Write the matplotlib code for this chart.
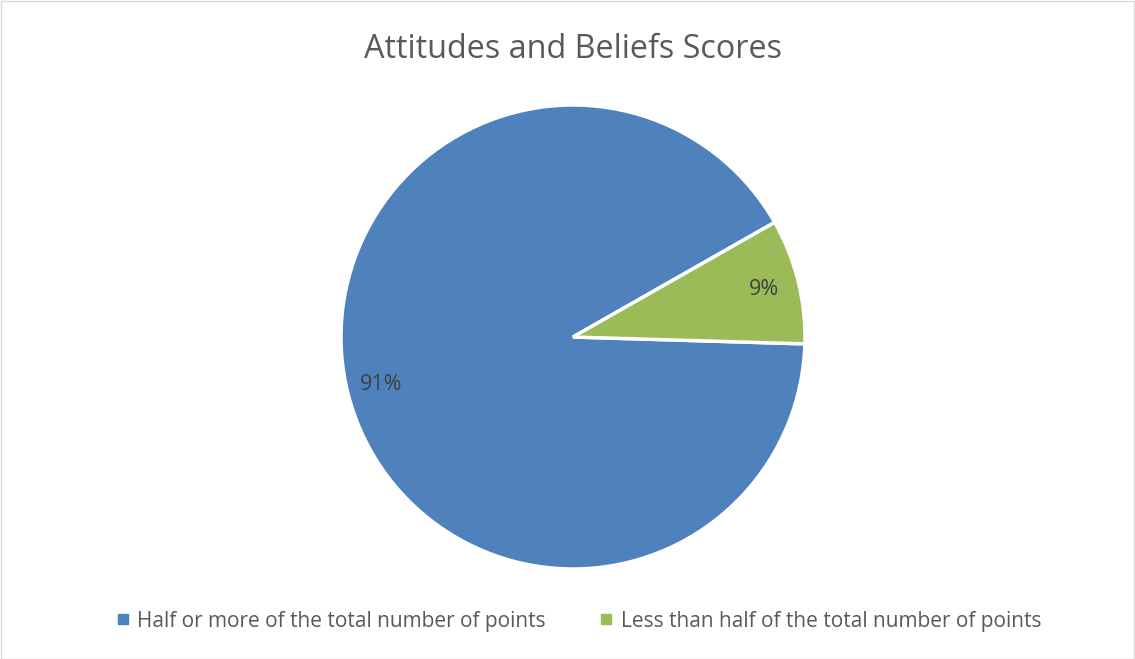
import matplotlib
matplotlib.use("Agg")
import matplotlib.pyplot as plt
from matplotlib.patches import Rectangle
from matplotlib.lines import Line2D

categories = ["Half or more of the total number of points",
              "Less than half of the total number of points"]
values = [91.3, 8.7]
colors = ["#4F81BD", "#9BBB59"]
title = "Attitudes and Beliefs Scores"

plt.rcParams['font.family'] = ['Open Sans', 'DejaVu Sans']

W, H = 1135, 659
fig = plt.figure(figsize=(W/100, H/100), dpi=100)
fig.patch.set_facecolor("white")
fig.add_artist(Rectangle((0.5/W, 0.5/H), 1-1.5/W, 1-1.5/H, transform=fig.transFigure,
                         fill=False, edgecolor="#D9D9D9", linewidth=1))

cx, cy, r = 573, 337, 232
ax = fig.add_axes([(cx - r)/W, (H - cy - r)/H, 2*r/W, 2*r/H])
wedges, texts, autotexts = ax.pie(values, colors=colors, startangle=-1.7, counterclock=False,
                                  autopct='%.0f%%', pctdistance=0.85,
                                  wedgeprops=dict(edgecolor="white", linewidth=2.5),
                                  textprops=dict(color="#404040", fontsize=15.5))
ax.set_aspect('equal')
ax.set_xlim(-1, 1)
ax.set_ylim(-1, 1)

fig.text(573/W, 1 - 49/H, title, ha="center", va="center", fontsize=23.3, color="#595959")

handles = [Line2D([0], [0], marker='s', linestyle='none', markersize=7,
                  markerfacecolor=c, markeredgecolor=c) for c in colors]
fig.legend(handles, categories, loc="center", bbox_to_anchor=(577/W, 1 - 621/H),
           ncol=2, frameon=False, fontsize=15.0, labelcolor="#595959",
           handletextpad=0.2, columnspacing=2.4, handlelength=1.0)

fig.savefig("out.png", dpi=100)
